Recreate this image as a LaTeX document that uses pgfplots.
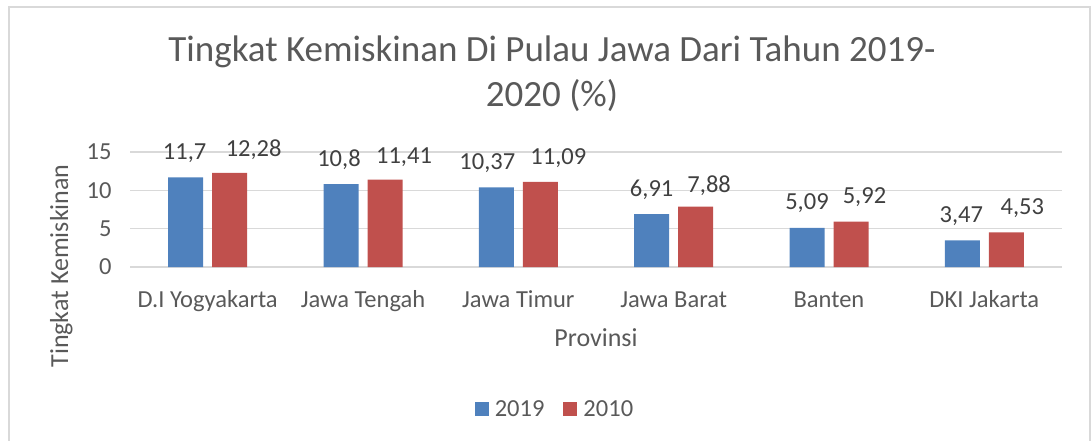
\documentclass[border=0pt]{standalone}
\usepackage{pgfplots}
\pgfplotsset{compat=1.18}
\usepackage{fontspec}
\setmainfont{Carlito}
\definecolor{cblue}{HTML}{4F81BD}
\definecolor{cred}{HTML}{C0504D}
\definecolor{gridc}{HTML}{D9D9D9}
\definecolor{txt}{HTML}{595959}
\definecolor{lbl}{HTML}{404040}
\newcommand{\tickfont}{\fontsize{24.5}{29}\selectfont}
\newcommand{\labfont}{\fontsize{26}{31}\selectfont}
\begin{document}
\begin{tikzpicture}
\useasboundingbox (0pt,0pt) rectangle (1092pt,-441pt);
\draw[gridc, line width=1.5pt] (9pt,-460pt) -- (9pt,-7pt) -- (1090pt,-7pt) -- (1090pt,-460pt);
\begin{axis}[
  at={(130pt,-267pt)}, anchor=south west,
  scale only axis, width=932pt, height=115pt,
  ybar=9pt, bar width=35pt,
  xmin=-0.5, xmax=5.5, ymin=0, ymax=15,
  enlargelimits=false, clip=false,
  xtick={0,1,2,3,4,5},
  xticklabels={D.I Yogyakarta, Jawa Tengah, Jawa Timur, Jawa Barat, Banten, DKI Jakarta},
  ytick={0,5,10,15},
  ymajorgrids, grid style={gridc, line width=1.5pt},
  axis line style={draw=none}, major tick length=0pt,
  /pgf/number format/assume math mode=true,
  /pgf/number format/.cd, use comma, fixed, precision=2, /pgfplots/.cd,
  ticklabel style={font=\tickfont, text=txt},
  yticklabel style={anchor=east, xshift=-15pt},
  xticklabel style={anchor=base, yshift=-40pt},
  visualization depends on={\thisrow{dx} \as \dx},
  visualization depends on={\thisrow{dy} \as \dy},
  nodes near coords,
  every node near coord/.append style={font=\tickfont, text=lbl, anchor=base, xshift=\dx pt, yshift=\dy pt},
  legend columns=2,
  legend style={at={(axis description cs:0.456,-1.235)}, anchor=center, draw=none, fill=none,
    font=\tickfont, text=txt,
    /tikz/every odd column/.append style={column sep=4pt},
    /tikz/every even column/.append style={column sep=17pt}},
  legend image code/.code={\fill[#1,draw=none] (0pt,-7pt) rectangle (14pt,7pt);},
]
\addplot[fill=cblue, draw=none] table[x=x, y=v] {
x v dx dy
0 11.7 -1 18
1 10.8 -2 18
2 10.37 -9 18
3 6.91 0 18
4 5.09 0 18
5 3.47 -1 18
};
\addplot[fill=cred, draw=none] table[x=x, y=v] {
x v dx dy
0 12.28 24 16
1 11.41 19 16
2 11.09 18 17
3 7.88 13.5 14
4 5.92 13.5 18
5 4.53 16 18
};
\legend{2019, 2010}
\end{axis}
\node[anchor=base, text=txt, font=\fontsize{37}{44}\selectfont] at (552pt,-62pt) {Tingkat Kemiskinan Di Pulau Jawa Dari Tahun 2019-};
\node[anchor=base, text=txt, font=\fontsize{37}{44}\selectfont] at (552pt,-107pt) {2020 (\%)};
\node[anchor=base, text=txt, font=\labfont] at (596pt,-346pt) {Provinsi};
\node[anchor=base, rotate=90, text=txt, font=\labfont] at (68pt,-266pt) {Tingkat Kemiskinan};
\end{tikzpicture}
\end{document}
